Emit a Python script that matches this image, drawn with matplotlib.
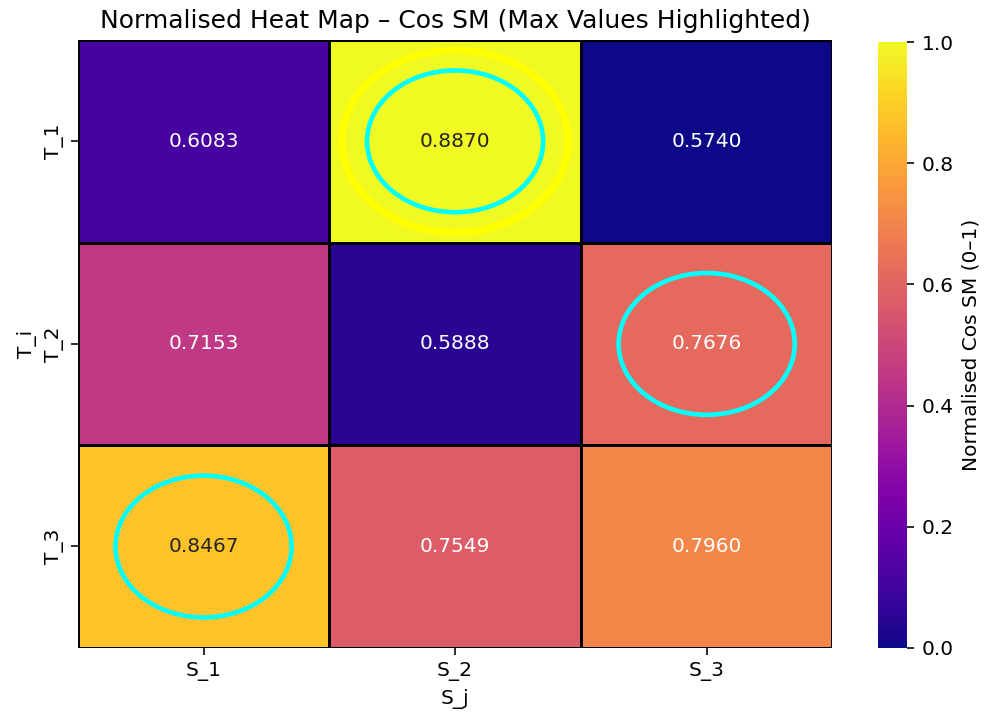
import numpy as np
import matplotlib.pyplot as plt
import seaborn as sns
from matplotlib.patches import Ellipse

rows = ["T_1", "T_2", "T_3"]
cols = ["S_1", "S_2", "S_3"]
cos_sm = np.array([
    [0.6083, 0.8870, 0.5740],
    [0.7153, 0.5888, 0.7676],
    [0.8467, 0.7549, 0.7960],
])

# min-max normalise for colour, keep raw values for the annotations
norm = (cos_sm - cos_sm.min()) / (cos_sm.max() - cos_sm.min())

dpi = 145
fig = plt.figure(figsize=(984 / dpi, 715 / dpi), dpi=dpi)
ax = fig.add_axes([0.079, 0.094, 0.767, 0.850])
cax = fig.add_axes([0.892, 0.094, 0.030, 0.847])

sns.heatmap(norm, ax=ax, cbar_ax=cax, cmap="plasma", vmin=0, vmax=1,
            annot=cos_sm, fmt=".4f",
            linewidths=0.5, linecolor="black",
            xticklabels=cols, yticklabels=rows,
            cbar_kws={"label": "Normalised Cos SM (0–1)"})

# row maxima in cyan
for i in range(cos_sm.shape[0]):
    j = np.argmax(cos_sm[i])
    ax.add_patch(Ellipse((j + 0.5, i + 0.5), 0.7, 0.7, fill=False,
                         edgecolor="cyan", lw=2.3))

# global max in yellow
gi, gj = np.unravel_index(np.argmax(cos_sm), cos_sm.shape)
ax.add_patch(Ellipse((gj + 0.5, gi + 0.5), 0.9, 0.9, fill=False,
                     edgecolor="yellow", lw=3.5))

ax.set_title("Normalised Heat Map – Cos SM (Max Values Highlighted)", fontsize=12.4)
ax.set_xlabel("S_j")
ax.set_ylabel("T_i")

plt.savefig("out.png")
